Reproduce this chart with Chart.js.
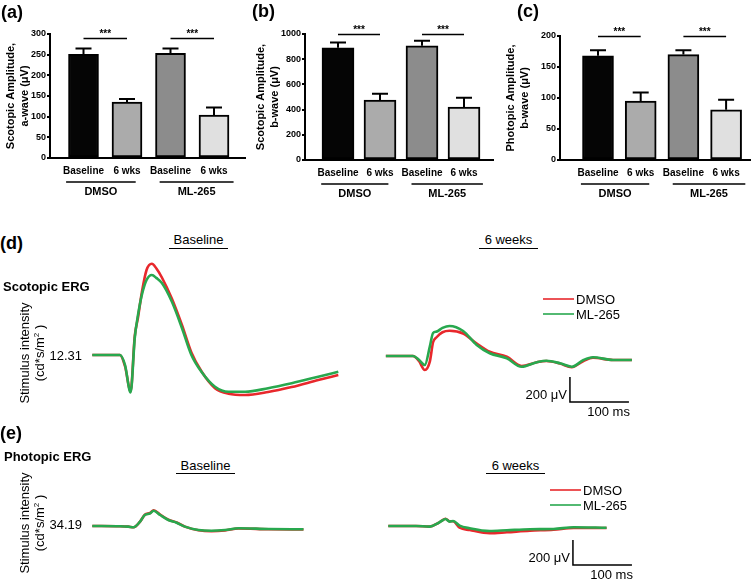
<!DOCTYPE html>
<html lang="en">
<head>
<meta charset="UTF-8">
<title>ERG amplitudes</title>
<script src="https://cdn.jsdelivr.net/npm/chart.js@4.4.1/dist/chart.umd.min.js"></script>
<style>
  body { margin: 0; background: #fff; font-family: 'Liberation Sans', Arial, sans-serif; }
  #fig { position: relative; width: 756px; height: 579px; overflow: hidden; }
  canvas { position: absolute; }
  .t { position: absolute; white-space: nowrap; color: #000; line-height: 16px; }
  .pl { font-size: 18px; font-weight: bold; }
  .hd { font-size: 13px; font-weight: bold; }
  .n { font-size: 13px; }
  .ln { position: absolute; height: 0; border-top: 1.5px solid #000; }
  .rot { position: absolute; width: 130px; height: 32px; font-size: 13px; line-height: 15px;
         text-align: center; transform: rotate(-90deg); }
</style>
</head>
<body>
<div id="fig">
  <canvas id="cA"></canvas>
  <canvas id="cB"></canvas>
  <canvas id="cC"></canvas>
  <canvas id="dBase"></canvas>
  <canvas id="d6w"></canvas>
  <canvas id="eBase"></canvas>
  <canvas id="e6w"></canvas>

  <div class="t pl" style="left:1px;top:4px">(a)</div>
  <div class="t pl" style="left:252px;top:3px">(b)</div>
  <div class="t pl" style="left:517px;top:3px">(c)</div>

  <div class="t pl" style="left:0px;top:235px">(d)</div>
  <div class="t hd" style="left:3px;top:279px">Scotopic ERG</div>
  <div class="rot" style="left:-32px;top:337px">Stimulus intensity<br>(cd*s/m<sup style="font-size:8px;line-height:0">2</sup> )</div>
  <div class="t n" style="left:40px;width:42px;text-align:right;top:348px">12.31</div>
  <div class="t n" style="left:169px;width:59px;text-align:center;top:232px">Baseline</div>
  <div class="ln" style="left:169px;width:59px;top:248px"></div>
  <div class="t n" style="left:479px;width:59px;text-align:center;top:232px">6 weeks</div>
  <div class="ln" style="left:479px;width:59px;top:248px"></div>

  <div class="t pl" style="left:0px;top:425px">(e)</div>
  <div class="t hd" style="left:4px;top:449px">Photopic ERG</div>
  <div class="rot" style="left:-32px;top:507px">Stimulus intensity<br>(cd*s/m<sup style="font-size:8px;line-height:0">2</sup> )</div>
  <div class="t n" style="left:40px;width:42px;text-align:right;top:517px">34.19</div>
  <div class="t n" style="left:176px;width:59px;text-align:center;top:458px">Baseline</div>
  <div class="ln" style="left:176px;width:59px;top:473px"></div>
  <div class="t n" style="left:486px;width:59px;text-align:center;top:458px">6 weeks</div>
  <div class="ln" style="left:486px;width:59px;top:473px"></div>
</div>

<script>
// ---- bar panels (a)-(c) ----
const barLabels = ['Baseline', '6 wks', 'Baseline', '6 wks'];
const groupLabels = ['DMSO', 'ML-265'];
const scotAwave = [251, 135, 253, 104];
const scotAwaveErr = [14, 8, 12, 18];
const scotBwave = [890, 475, 906, 420];
const scotBwaveErr = [43, 50, 40, 75];
const photBwave = [168, 95, 170, 81];
const photBwaveErr = [9, 14, 7, 16];
const ticksA = [0, 50, 100, 150, 200, 250, 300];
const ticksB = [0, 200, 400, 600, 800, 1000];
const ticksC = [0, 50, 100, 150, 200];
const sigLevelA = 290, sigLevelB = 1000, sigLevelC = 200;

// ---- ERG traces (time in ms from flash, amplitude in uV) ----
const scotBaseT = [-47, 0, 8.5, 18, 25, 30.5, 37, 45, 54, 62, 71, 88, 105, 121, 138, 161, 184, 212, 251, 291, 336, 370];
const scotBaseDMSO = [0, 0, -90, -290, 150, 300, 500, 680, 730, 690, 620, 450, 240, 20, -130, -265, -310, -320, -296, -256, -200, -160];
const scotBaseML = [0, 0, -80, -300, 136, 320, 480, 600, 640, 615, 576, 426, 216, 0, -134, -254, -294, -294, -266, -226, -174, -134];

const scot6wT = [-46, 0, 10, 20, 28.5, 34, 40, 50, 62, 85, 108, 130, 159, 184, 210, 226, 249, 269, 289, 305, 339, 371];
const scot6wDMSO = [0, 0, -40, -112, -45, 110, 150, 190, 202, 180, 100, 34, -6, -80, -50, -40, -60, -90, -40, -14, -32, -32];
const scot6wML = [0, 0, -30, -72, 75, 184, 195, 225, 240, 200, 88, 22, -18, -86, -50, -38, -58, -86, -32, -10, -32, -32];

const photBaseT = [-47, 0, 14, 23, 34, 42, 51, 57, 68, 82, 96, 110, 133, 155, 178, 201, 252, 311];
const photBaseDMSO = [0, -2, -5, -10, 35, 90, 104, 126, 92, 50, 28, -5, -34, -42, -36, -20, -26, -28];
const photBaseML = [0, -2, -5, -10, 35, 88, 101, 122, 88, 48, 26, -5, -32, -38, -32, -18, -24, -26];

const phot6wT = [-47, 0, 23, 37, 43, 50, 57, 63, 74, 91, 125, 154, 193, 233, 267, 323];
const phot6wDMSO = [0, 0, -5, 22, 40, 58, 38, 38, -14, -32, -58, -50, -38, -30, -16, -16];
const phot6wML = [0, 0, -5, 22, 40, 56, 35, 40, 3, -18, -40, -34, -26, -24, -10, -14];

Chart.defaults.font.family = "'Liberation Sans', Arial, sans-serif";
Chart.defaults.color = '#000';

const barFill = ['#050505', '#ababab', '#8c8c8c', '#e0e0e0'];
const RED = 'rgb(232,40,44)';
const GREEN = 'rgb(40,168,78)';

function place(cv, l, t, w, h) {
  cv.width = w; cv.height = h;
  cv.style.left = l + 'px'; cv.style.top = t + 'px';
  cv.style.width = w + 'px'; cv.style.height = h + 'px';
}

function barPanel(id, g, vals, errs, yTicks, title, sigLevel) {
  const cv = document.getElementById(id);
  place(cv, g.left, 0, g.w, g.h);
  const xMin = 1 - (g.first - g.axisL) / g.step;
  const xMax = xMin + (g.axisR - g.axisL) / g.step;

  const extras = {
    id: 'extras' + id,
    afterDatasetsDraw(chart) {
      const { ctx, scales: { x, y } } = chart;
      ctx.save();
      ctx.strokeStyle = '#000';
      ctx.lineWidth = 2;
      vals.forEach((v, i) => {
        const px = x.getPixelForValue(i + 1);
        const y0 = y.getPixelForValue(v), y1 = y.getPixelForValue(v + errs[i]);
        ctx.beginPath();
        ctx.moveTo(px, y0); ctx.lineTo(px, y1);
        ctx.moveTo(px - 8, y1); ctx.lineTo(px + 8, y1);
        ctx.stroke();
      });
      ctx.restore();
    },
    afterDraw(chart) {
      const { ctx, scales: { x, y }, chartArea } = chart;
      ctx.save();
      ctx.strokeStyle = '#000';
      ctx.fillStyle = '#000';
      // significance brackets
      [[1, 2], [3, 4]].forEach(([a, b]) => {
        const sy = Math.round(y.getPixelForValue(sigLevel)) + 0.5;
        const xa = x.getPixelForValue(a), xb = x.getPixelForValue(b);
        ctx.lineWidth = 1.5;
        ctx.beginPath(); ctx.moveTo(xa, sy); ctx.lineTo(xb, sy); ctx.stroke();
        ctx.font = 'bold 10px "Liberation Sans", Arial, sans-serif';
        ctx.textAlign = 'center'; ctx.textBaseline = 'bottom';
        ctx.fillText('***', (xa + xb) / 2, sy + 1);
      });
      // group labels under the axis
      const spans = [[0.6, 2.2], [2.75, 4.45]];
      const ly = chartArea.bottom + 24;
      spans.forEach((s, i) => {
        const xa = x.getPixelForValue(s[0]), xb = x.getPixelForValue(s[1]);
        ctx.lineWidth = 1.5;
        ctx.beginPath(); ctx.moveTo(xa, ly); ctx.lineTo(xb, ly); ctx.stroke();
        ctx.font = 'bold 11px "Liberation Sans", Arial, sans-serif';
        ctx.textAlign = 'center'; ctx.textBaseline = 'middle';
        ctx.fillText(groupLabels[i], (xa + xb) / 2, ly + 10);
      });
      ctx.restore();
    }
  };

  new Chart(cv, {
    type: 'bar',
    data: {
      datasets: [{
        data: vals.map((v, i) => ({ x: i + 1, y: v })),
        backgroundColor: barFill,
        borderColor: '#000',
        borderWidth: 2,
        borderSkipped: false,
        barThickness: g.barW
      }]
    },
    options: {
      responsive: false,
      animation: false,
      layout: { padding: { top: g.top, right: g.left + g.w - g.axisR, left: 0, bottom: 0 } },
      plugins: { legend: { display: false }, tooltip: { enabled: false } },
      scales: {
        x: {
          type: 'linear', min: xMin, max: xMax, offset: false,
          grid: { display: false, drawTicks: false },
          border: { color: '#000', width: 2 },
          afterBuildTicks: a => { a.ticks = [1, 2, 3, 4].map(v => ({ value: v })); },
          ticks: { callback: v => barLabels[v - 1], autoSkip: false, maxRotation: 0, padding: 7,
                   font: { size: 10, weight: 'bold' } },
          afterFit: s => { s.height = g.h - g.bottom; }
        },
        y: {
          min: 0, max: yTicks[yTicks.length - 1],
          afterBuildTicks: a => { a.ticks = yTicks.map(v => ({ value: v })); },
          grid: { drawOnChartArea: false, drawTicks: true, tickLength: 3, color: '#000', lineWidth: 2 },
          border: { color: '#000', width: 2 },
          ticks: { padding: 1, callback: v => String(v), font: { size: 9, weight: 'bold' } },
          title: { display: true, text: title, font: { size: 11, weight: 'bold', lineHeight: 1.3 },
                   padding: { top: 4, bottom: 2 } },
          afterFit: s => { s.width = g.axisL - g.left; }
        }
      }
    },
    plugins: [extras]
  });
}

barPanel('cA', { left: 0, w: 250, h: 205, axisL: 50, axisR: 245, first: 83.5, step: 43.5, top: 34, bottom: 158, barW: 30 },
  scotAwave, scotAwaveErr, ticksA, ['Scotopic Amplitude,', 'a-wave (\u03bcV)'], sigLevelA);
barPanel('cB', { left: 250, w: 250, h: 205, axisL: 305, axisR: 493, first: 338, step: 42, top: 34, bottom: 160, barW: 32 },
  scotBwave, scotBwaveErr, ticksB, ['Scotopic Amplitude,', 'b-wave (\u03bcV)'], sigLevelB);
barPanel('cC', { left: 500, w: 256, h: 205, axisL: 560, axisR: 750, first: 598, step: 42.7, top: 36, bottom: 160, barW: 31 },
  photBwave, photBwaveErr, ticksC, ['Photopic Amplitude,', 'b-wave (\u03bcV)'], sigLevelC);

// ---- ERG traces ----
const PX_PER_MS = 0.59;   // 100 ms = 59 px
const PX_PER_UV = 0.125;  // 200 uV = 25 px

function ergPanel(id, g, t, dmso, ml, extra) {
  const cv = document.getElementById(id);
  place(cv, g.left, g.top, g.w, g.h);
  const xMin = (g.left - g.stimX) / PX_PER_MS, xMax = xMin + g.w / PX_PER_MS;
  const yMax = (g.baseY - g.top) / PX_PER_UV, yMin = yMax - g.h / PX_PER_UV;
  const plugins = [];
  if (extra) {
    plugins.push({
      id: 'ergExtra' + id,
      afterDraw(chart) {
        const { ctx, scales: { x, y } } = chart;
        ctx.save();
        // legend
        chart.data.datasets.forEach((ds, i) => {
          const ly = extra.legY + i * 15;
          ctx.strokeStyle = ds.borderColor; ctx.lineWidth = 1.6;
          ctx.beginPath(); ctx.moveTo(extra.legX, ly); ctx.lineTo(extra.legX + 31, ly); ctx.stroke();
          ctx.fillStyle = '#000';
          ctx.font = '13px "Liberation Sans", Arial, sans-serif';
          ctx.textAlign = 'left'; ctx.textBaseline = 'middle';
          ctx.fillText(ds.label, extra.legX + 33, ly + 1);
        });
        // scale bar: 200 uV by 100 ms
        const bx = x.getPixelForValue(extra.barT), bx1 = x.getPixelForValue(extra.barT + 100);
        const by = y.getPixelForValue(extra.barV), by1 = y.getPixelForValue(extra.barV + 200);
        ctx.strokeStyle = '#000'; ctx.lineWidth = 1.5;
        ctx.beginPath();
        ctx.moveTo(bx, by1); ctx.lineTo(bx, by); ctx.lineTo(bx1, by);
        ctx.stroke();
        ctx.fillStyle = '#000';
        ctx.font = '13px "Liberation Sans", Arial, sans-serif';
        ctx.textBaseline = 'middle';
        ctx.textAlign = 'right';
        ctx.fillText('200 \u03bcV', bx - 3, by - 7);
        ctx.fillText('100 ms', bx1 + 1, by + 10);
        ctx.restore();
      }
    });
  }
  new Chart(cv, {
    type: 'line',
    data: {
      datasets: [
        // green (ML-265) is drawn over red, as in the figure
        { label: 'DMSO', order: 1, data: t.map((v, i) => ({ x: v, y: dmso[i] })), borderColor: RED },
        { label: 'ML-265', order: 0, data: t.map((v, i) => ({ x: v, y: ml[i] })), borderColor: GREEN }
      ]
    },
    options: {
      responsive: false,
      animation: false,
      layout: { padding: 0 },
      elements: {
        point: { radius: 0 },
        line: { borderWidth: 2.6, cubicInterpolationMode: 'monotone', fill: false }
      },
      plugins: { legend: { display: false }, tooltip: { enabled: false } },
      scales: {
        x: { type: 'linear', display: false, min: xMin, max: xMax },
        y: { display: false, min: yMin, max: yMax }
      }
    },
    plugins: plugins
  });
}

ergPanel('dBase', { left: 85, top: 250, w: 265, h: 160, stimX: 120, baseY: 355 },
  scotBaseT, scotBaseDMSO, scotBaseML, null);
ergPanel('d6w', { left: 380, top: 280, w: 276, h: 140, stimX: 413, baseY: 356 },
  scot6wT, scot6wDMSO, scot6wML, { legX: 163, legY: 19, barT: 266, barV: -368 });
ergPanel('eBase', { left: 85, top: 490, w: 240, h: 60, stimX: 120, baseY: 526 },
  photBaseT, photBaseDMSO, photBaseML, null);
ergPanel('e6w', { left: 380, top: 480, w: 276, h: 99, stimX: 416, baseY: 526 },
  phot6wT, phot6wDMSO, phot6wML, { legX: 170, legY: 10, barT: 266, barV: -312 });
</script>
</body>
</html>
